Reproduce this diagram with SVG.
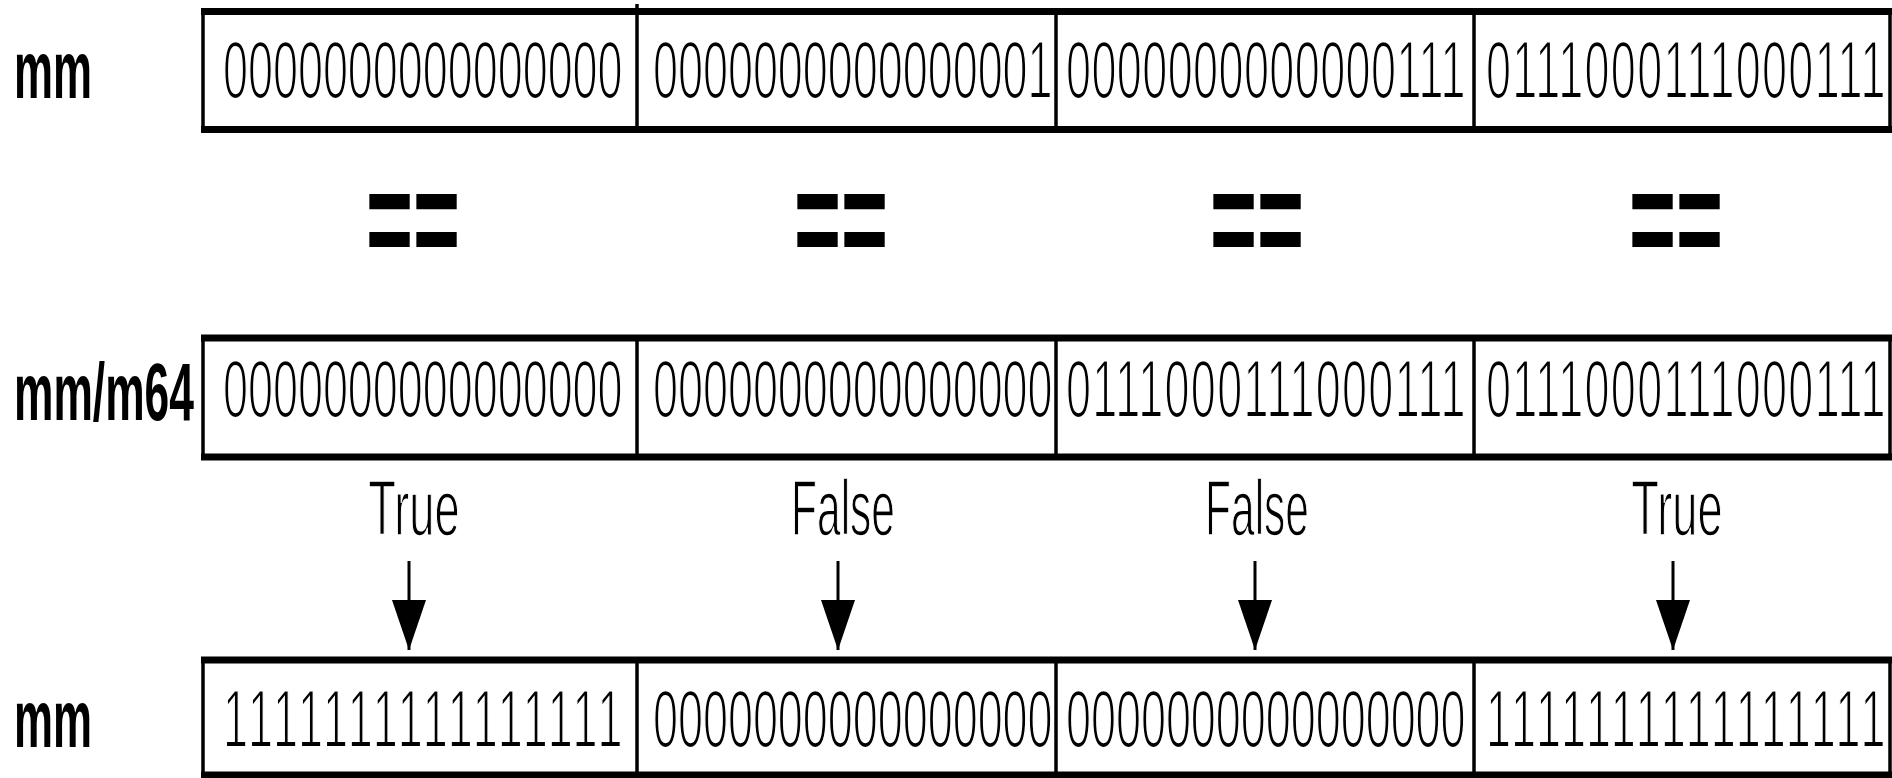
<svg xmlns="http://www.w3.org/2000/svg" width="1892" height="778" viewBox="0 0 1892 778">
<defs>
<marker id="ah" markerUnits="userSpaceOnUse" markerWidth="50" markerHeight="34" refX="50" refY="17" orient="auto">
<path d="M0,0 L50,17 L0,34 z" fill="#000"/>
</marker>
<style>
.hl{stroke:#000;stroke-width:7;fill:none}
.vl{stroke:#000;stroke-width:3.5;fill:none}
.bits{font-family:"Liberation Sans",Arial,sans-serif;font-size:81px;fill:#000;stroke:#fff;stroke-width:2.2px}
.lbl{font-family:"Liberation Sans",Arial,sans-serif;font-size:82px;font-weight:bold;fill:#000}
.tf{font-family:"Liberation Sans",Arial,sans-serif;font-size:78px;fill:#000;text-anchor:middle;stroke:#fff;stroke-width:1.6px}
.eq{font-family:"Liberation Sans",Arial,sans-serif;font-size:140px;font-weight:bold;fill:#000;text-anchor:middle}
.arr{stroke:#000;stroke-width:3;fill:none;marker-end:url(#ah)}
</style>
</defs>
<rect x="0" y="0" width="1892" height="778" fill="#fff"/>

<g id="row1">
<text class="lbl" transform="translate(14,98) scale(0.535,1)">mm</text>
<line class="hl" x1="201" y1="11.5" x2="1892" y2="11.5"/>
<line class="hl" x1="201" y1="129.5" x2="1892" y2="129.5"/>
<line class="vl" x1="203" y1="9" x2="203" y2="132"/>
<line class="vl" x1="637" y1="4" x2="637" y2="132"/>
<line class="vl" x1="1056" y1="9" x2="1056" y2="132"/>
<line class="vl" x1="1474" y1="9" x2="1474" y2="132"/>
<line class="vl" x1="1890" y1="9" x2="1890" y2="132"/>
<g id="r1c1"><text class="bits" transform="translate(223,98) scale(0.555,1)" textLength="720" lengthAdjust="spacing">0000000000000000</text></g>
<g id="r1c2"><text class="bits" transform="translate(653,98) scale(0.555,1)" textLength="720" lengthAdjust="spacing">0000000000000001</text></g>
<g id="r1c3"><text class="bits" transform="translate(1066,98) scale(0.555,1)" textLength="720" lengthAdjust="spacing">0000000000000111</text></g>
<g id="r1c4"><text class="bits" transform="translate(1486,98) scale(0.555,1)" textLength="720" lengthAdjust="spacing">0111000111000111</text></g>
</g>

<g id="eq1"><text class="eq" transform="translate(413,267) scale(0.575,1)">==</text></g>
<g id="eq2"><text class="eq" transform="translate(841,267) scale(0.575,1)">==</text></g>
<g id="eq3"><text class="eq" transform="translate(1257,267) scale(0.575,1)">==</text></g>
<g id="eq4"><text class="eq" transform="translate(1676,267) scale(0.575,1)">==</text></g>

<g id="row2">
<text class="lbl" transform="translate(14,420) scale(0.541,1)">mm/m64</text>
<line class="hl" x1="201" y1="338" x2="1892" y2="338"/>
<line class="hl" x1="201" y1="457" x2="1892" y2="457"/>
<line class="vl" x1="203" y1="335" x2="203" y2="460"/>
<line class="vl" x1="637" y1="335" x2="637" y2="460"/>
<line class="vl" x1="1056" y1="335" x2="1056" y2="460"/>
<line class="vl" x1="1474" y1="335" x2="1474" y2="460"/>
<line class="vl" x1="1890" y1="335" x2="1890" y2="460"/>
<g id="r2c1"><text class="bits" transform="translate(223,417) scale(0.555,1)" textLength="720" lengthAdjust="spacing">0000000000000000</text></g>
<g id="r2c2"><text class="bits" transform="translate(653,417) scale(0.555,1)" textLength="720" lengthAdjust="spacing">0000000000000000</text></g>
<g id="r2c3"><text class="bits" transform="translate(1066,417) scale(0.555,1)" textLength="720" lengthAdjust="spacing">0111000111000111</text></g>
<g id="r2c4"><text class="bits" transform="translate(1486,417) scale(0.555,1)" textLength="720" lengthAdjust="spacing">0111000111000111</text></g>
</g>

<g id="results">
<g id="res1"><text class="tf" transform="translate(414,535) scale(0.58,1)">True</text></g>
<g id="res2"><text class="tf" transform="translate(843,535) scale(0.545,1)">False</text></g>
<g id="res3"><text class="tf" transform="translate(1257,535) scale(0.545,1)">False</text></g>
<g id="res4"><text class="tf" transform="translate(1677,535) scale(0.58,1)">True</text></g>
</g>

<g id="connectors">
<line class="arr" x1="409" y1="561" x2="409" y2="650"/>
<line class="arr" x1="838" y1="561" x2="838" y2="650"/>
<line class="arr" x1="1255" y1="561" x2="1255" y2="650"/>
<line class="arr" x1="1673" y1="561" x2="1673" y2="650"/>
</g>

<g id="row3">
<text class="lbl" transform="translate(14,747) scale(0.535,1)">mm</text>
<line class="hl" x1="201" y1="660" x2="1892" y2="660"/>
<line class="hl" x1="201" y1="775" x2="1892" y2="775"/>
<line class="vl" x1="203" y1="657" x2="203" y2="778"/>
<line class="vl" x1="637" y1="657" x2="637" y2="778"/>
<line class="vl" x1="1056" y1="657" x2="1056" y2="778"/>
<line class="vl" x1="1474" y1="657" x2="1474" y2="778"/>
<line class="vl" x1="1890" y1="657" x2="1890" y2="778"/>
<g id="r3c1"><text class="bits" transform="translate(223,747) scale(0.555,1)" textLength="720" lengthAdjust="spacing">1111111111111111</text></g>
<g id="r3c2"><text class="bits" transform="translate(653,747) scale(0.555,1)" textLength="720" lengthAdjust="spacing">0000000000000000</text></g>
<g id="r3c3"><text class="bits" transform="translate(1066,747) scale(0.555,1)" textLength="720" lengthAdjust="spacing">0000000000000000</text></g>
<g id="r3c4"><text class="bits" transform="translate(1486,747) scale(0.555,1)" textLength="720" lengthAdjust="spacing">1111111111111111</text></g>
</g>
</svg>
